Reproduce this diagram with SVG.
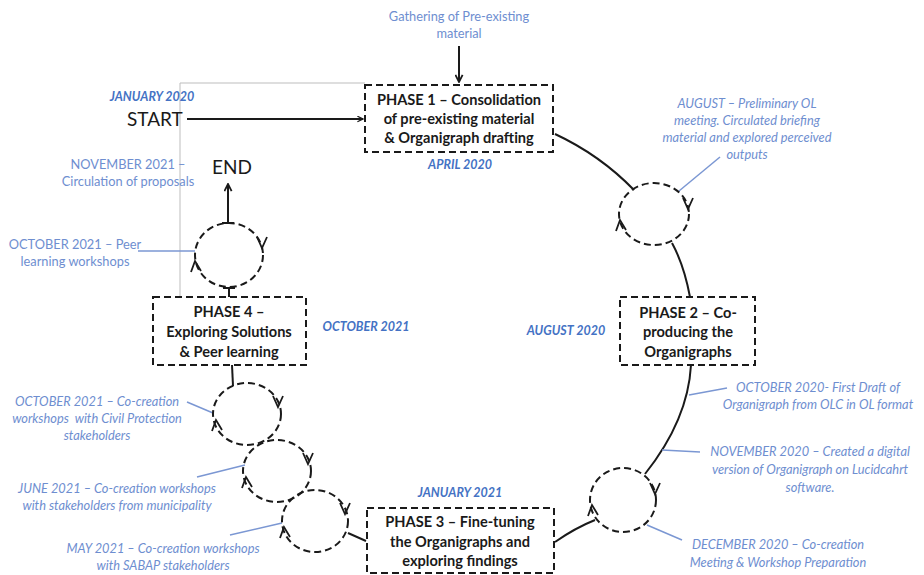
<svg xmlns="http://www.w3.org/2000/svg" width="924" height="575" viewBox="0 0 924 575">
<defs>
<style>
.box{fill:#fff;stroke:#1a1a1a;stroke-width:2;stroke-dasharray:7,4}
.loop{fill:none;stroke:#1a1a1a;stroke-width:2;stroke-dasharray:7,4}
.chev{fill:none;stroke:#1a1a1a;stroke-width:1.8;stroke-linejoin:miter}
.ph{font-family:Lato,"Liberation Sans",sans-serif;font-weight:bold;font-size:14.6px;fill:#1a1a1a;text-anchor:middle}
.big{font-family:Lato,"Liberation Sans",sans-serif;font-size:19px;fill:#1a1a1a}
.date{font-family:Lato,"Liberation Sans",sans-serif;font-weight:bold;font-style:italic;font-size:12.5px;fill:#4472C4;text-anchor:middle}
.ann{font-family:Lato,"Liberation Sans",sans-serif;font-size:12.8px;fill:#6E8ED0;text-anchor:middle}
.anni{font-family:Lato,"Liberation Sans",sans-serif;font-style:italic;font-size:12.8px;fill:#6E8ED0;text-anchor:middle}
.con{fill:none;stroke:#1a1a1a;stroke-width:2}
.lead{fill:none;stroke:#7B97D3;stroke-width:1.5}
.gray{fill:none;stroke:#BDBDBD;stroke-width:1}
</style>
<marker id="ah" viewBox="0 0 10 10" refX="9" refY="5" markerWidth="7" markerHeight="7" orient="auto" markerUnits="userSpaceOnUse">
<path d="M1,1 L9,5 L1,9" fill="none" stroke="#1a1a1a" stroke-width="1.8"/>
</marker>
<marker id="ahb" viewBox="0 0 10 10" refX="9" refY="5" markerWidth="9" markerHeight="9" orient="auto" markerUnits="userSpaceOnUse">
<path d="M1,1 L9,5 L1,9" fill="none" stroke="#1a1a1a" stroke-width="2"/>
</marker>
</defs>
<rect width="924" height="575" fill="#fff"/>

<g id="connectors">
<polyline class="gray" points="180,297 180,83 365,83"/>
<line class="con" x1="459" y1="46" x2="459" y2="82" marker-end="url(#ahb)"/>
<line class="con" x1="187" y1="119" x2="363" y2="119" stroke-width="1.8" marker-end="url(#ah)"/>
<line class="con" x1="228" y1="223" x2="228" y2="184" stroke-width="2.5" marker-end="url(#ahb)"/>
<line class="con" x1="222" y1="223" x2="234" y2="223"/>
<line class="con" x1="229" y1="287" x2="229" y2="297"/>
<line class="con" x1="223" y1="288" x2="235" y2="288"/>
<path class="con" d="M555,134 Q600,155 634,190"/>
<path class="con" d="M672,243 Q684,265 690,297"/>
<path class="con" d="M691,365 Q688,420 645,474"/>
<path class="con" d="M595,520 Q575,528 555,542"/>
<path class="con" d="M232,365 L233,386"/>
<path class="con" d="M348,533 L366,541"/>
<path class="lead" d="M679,191 L720,157"/>
<path class="lead" d="M689,395 L727,388"/>
<path class="lead" d="M662,450 L700,452"/>
<path class="lead" d="M647,525 L682,540"/>
<path class="lead" d="M138,251 L195,251"/>
<path class="lead" d="M187,402 L213,413"/>
<path class="lead" d="M197,477 L245,465"/>
<path class="lead" d="M230,535 L282,523"/>
</g>

<g id="loop-p1">
<ellipse class="loop" cx="654" cy="214" rx="35" ry="31"/>
<polyline class="chev" points="683,198 688,209 693,198"/>
<polyline class="chev" points="616,231 620,220 626,230"/>
</g>
<g id="loop-p2">
<ellipse class="loop" cx="623" cy="500" rx="33" ry="32"/>
<polyline class="chev" points="650,483 655,494 660,483"/>
<polyline class="chev" points="588,516 592,505 598,515"/>
</g>
<g id="loop-c3">
<ellipse class="loop" cx="315" cy="521" rx="33" ry="31"/>
<polyline class="chev" points="340,503 345,514 350,503"/>
<polyline class="chev" points="280,538 284,527 290,537"/>
</g>
<g id="loop-c2">
<ellipse class="loop" cx="277" cy="471" rx="34" ry="31"/>
<polyline class="chev" points="303,453 308,464 313,453"/>
<polyline class="chev" points="242,488 246,477 252,487"/>
</g>
<g id="loop-c1">
<ellipse class="loop" cx="247" cy="414" rx="34" ry="31"/>
<polyline class="chev" points="273,396 278,407 283,396"/>
<polyline class="chev" points="212,431 216,420 222,430"/>
</g>
<g id="loop-p4">
<ellipse class="loop" cx="229" cy="255" rx="34" ry="32"/>
<polyline class="chev" points="257,237 262,248 267,237"/>
<polyline class="chev" points="191,272 195,261 201,271"/>
</g>

<g id="phase1">
<rect class="box" x="365" y="85" width="188" height="67"/>
<text class="ph" x="459" y="105">PHASE 1 – Consolidation</text>
<text class="ph" x="459" y="124">of pre-existing material</text>
<text class="ph" x="459" y="143">&amp; Organigraph drafting</text>
</g>
<g id="phase2">
<rect class="box" x="620" y="297" width="135" height="68"/>
<text class="ph" x="688" y="318">PHASE 2 – Co-</text>
<text class="ph" x="688" y="337">producing the</text>
<text class="ph" x="688" y="357">Organigraphs</text>
</g>
<g id="phase3">
<rect class="box" x="367" y="508" width="187" height="65"/>
<text class="ph" x="460" y="527">PHASE 3 – Fine-tuning</text>
<text class="ph" x="460" y="547">the Organigraphs and</text>
<text class="ph" x="460" y="566">exploring findings</text>
</g>
<g id="phase4">
<rect class="box" x="153" y="297" width="153" height="68"/>
<text class="ph" x="229" y="317">PHASE 4 –</text>
<text class="ph" x="229" y="337">Exploring Solutions</text>
<text class="ph" x="229" y="357">&amp; Peer learning</text>
</g>

<g id="start">
<text class="date" x="152" y="101">JANUARY 2020</text>
<text class="big" x="127" y="126">START</text>
</g>
<g id="end">
<text class="big" x="212" y="174">END</text>
</g>

<g id="labels">
<text class="ann" x="459" y="21">Gathering of Pre-existing</text>
<text class="ann" x="459" y="38">material</text>
<text class="date" x="460" y="169">APRIL 2020</text>
<text class="date" x="566" y="335">AUGUST 2020</text>
<text class="date" x="366" y="331">OCTOBER 2021</text>
<text class="date" x="460" y="497">JANUARY 2021</text>
<text class="anni" x="747" y="108">AUGUST – Preliminary OL</text>
<text class="anni" x="747" y="125">meeting. Circulated briefing</text>
<text class="anni" x="747" y="142">material and explored perceived</text>
<text class="anni" x="747" y="159">outputs</text>
<text class="anni" x="818" y="392">OCTOBER 2020- First Draft of</text>
<text class="anni" x="818" y="409">Organigraph from OLC in OL format</text>
<text class="anni" x="810" y="456">NOVEMBER 2020 – Created a digital</text>
<text class="anni" x="810" y="474">version of Organigraph on Lucidcahrt</text>
<text class="anni" x="810" y="492">software.</text>
<text class="anni" x="778" y="549">DECEMBER 2020 – Co-creation</text>
<text class="anni" x="778" y="567">Meeting &amp; Workshop Preparation</text>
<text class="ann" x="128" y="169">NOVEMBER 2021 –</text>
<text class="ann" x="128" y="186">Circulation of proposals</text>
<text class="ann" x="75" y="249">OCTOBER 2021 – Peer</text>
<text class="ann" x="75" y="266">learning workshops</text>
<text class="anni" x="97" y="406">OCTOBER 2021 – Co-creation</text>
<text class="anni" x="97" y="423" xml:space="preserve">workshops  with Civil Protection</text>
<text class="anni" x="97" y="440">stakeholders</text>
<text class="anni" x="117" y="493">JUNE 2021 – Co-creation workshops</text>
<text class="anni" x="117" y="510">with stakeholders from municipality</text>
<text class="anni" x="163" y="553">MAY 2021 – Co-creation workshops</text>
<text class="anni" x="163" y="570">with SABAP stakeholders</text>
</g>
</svg>
